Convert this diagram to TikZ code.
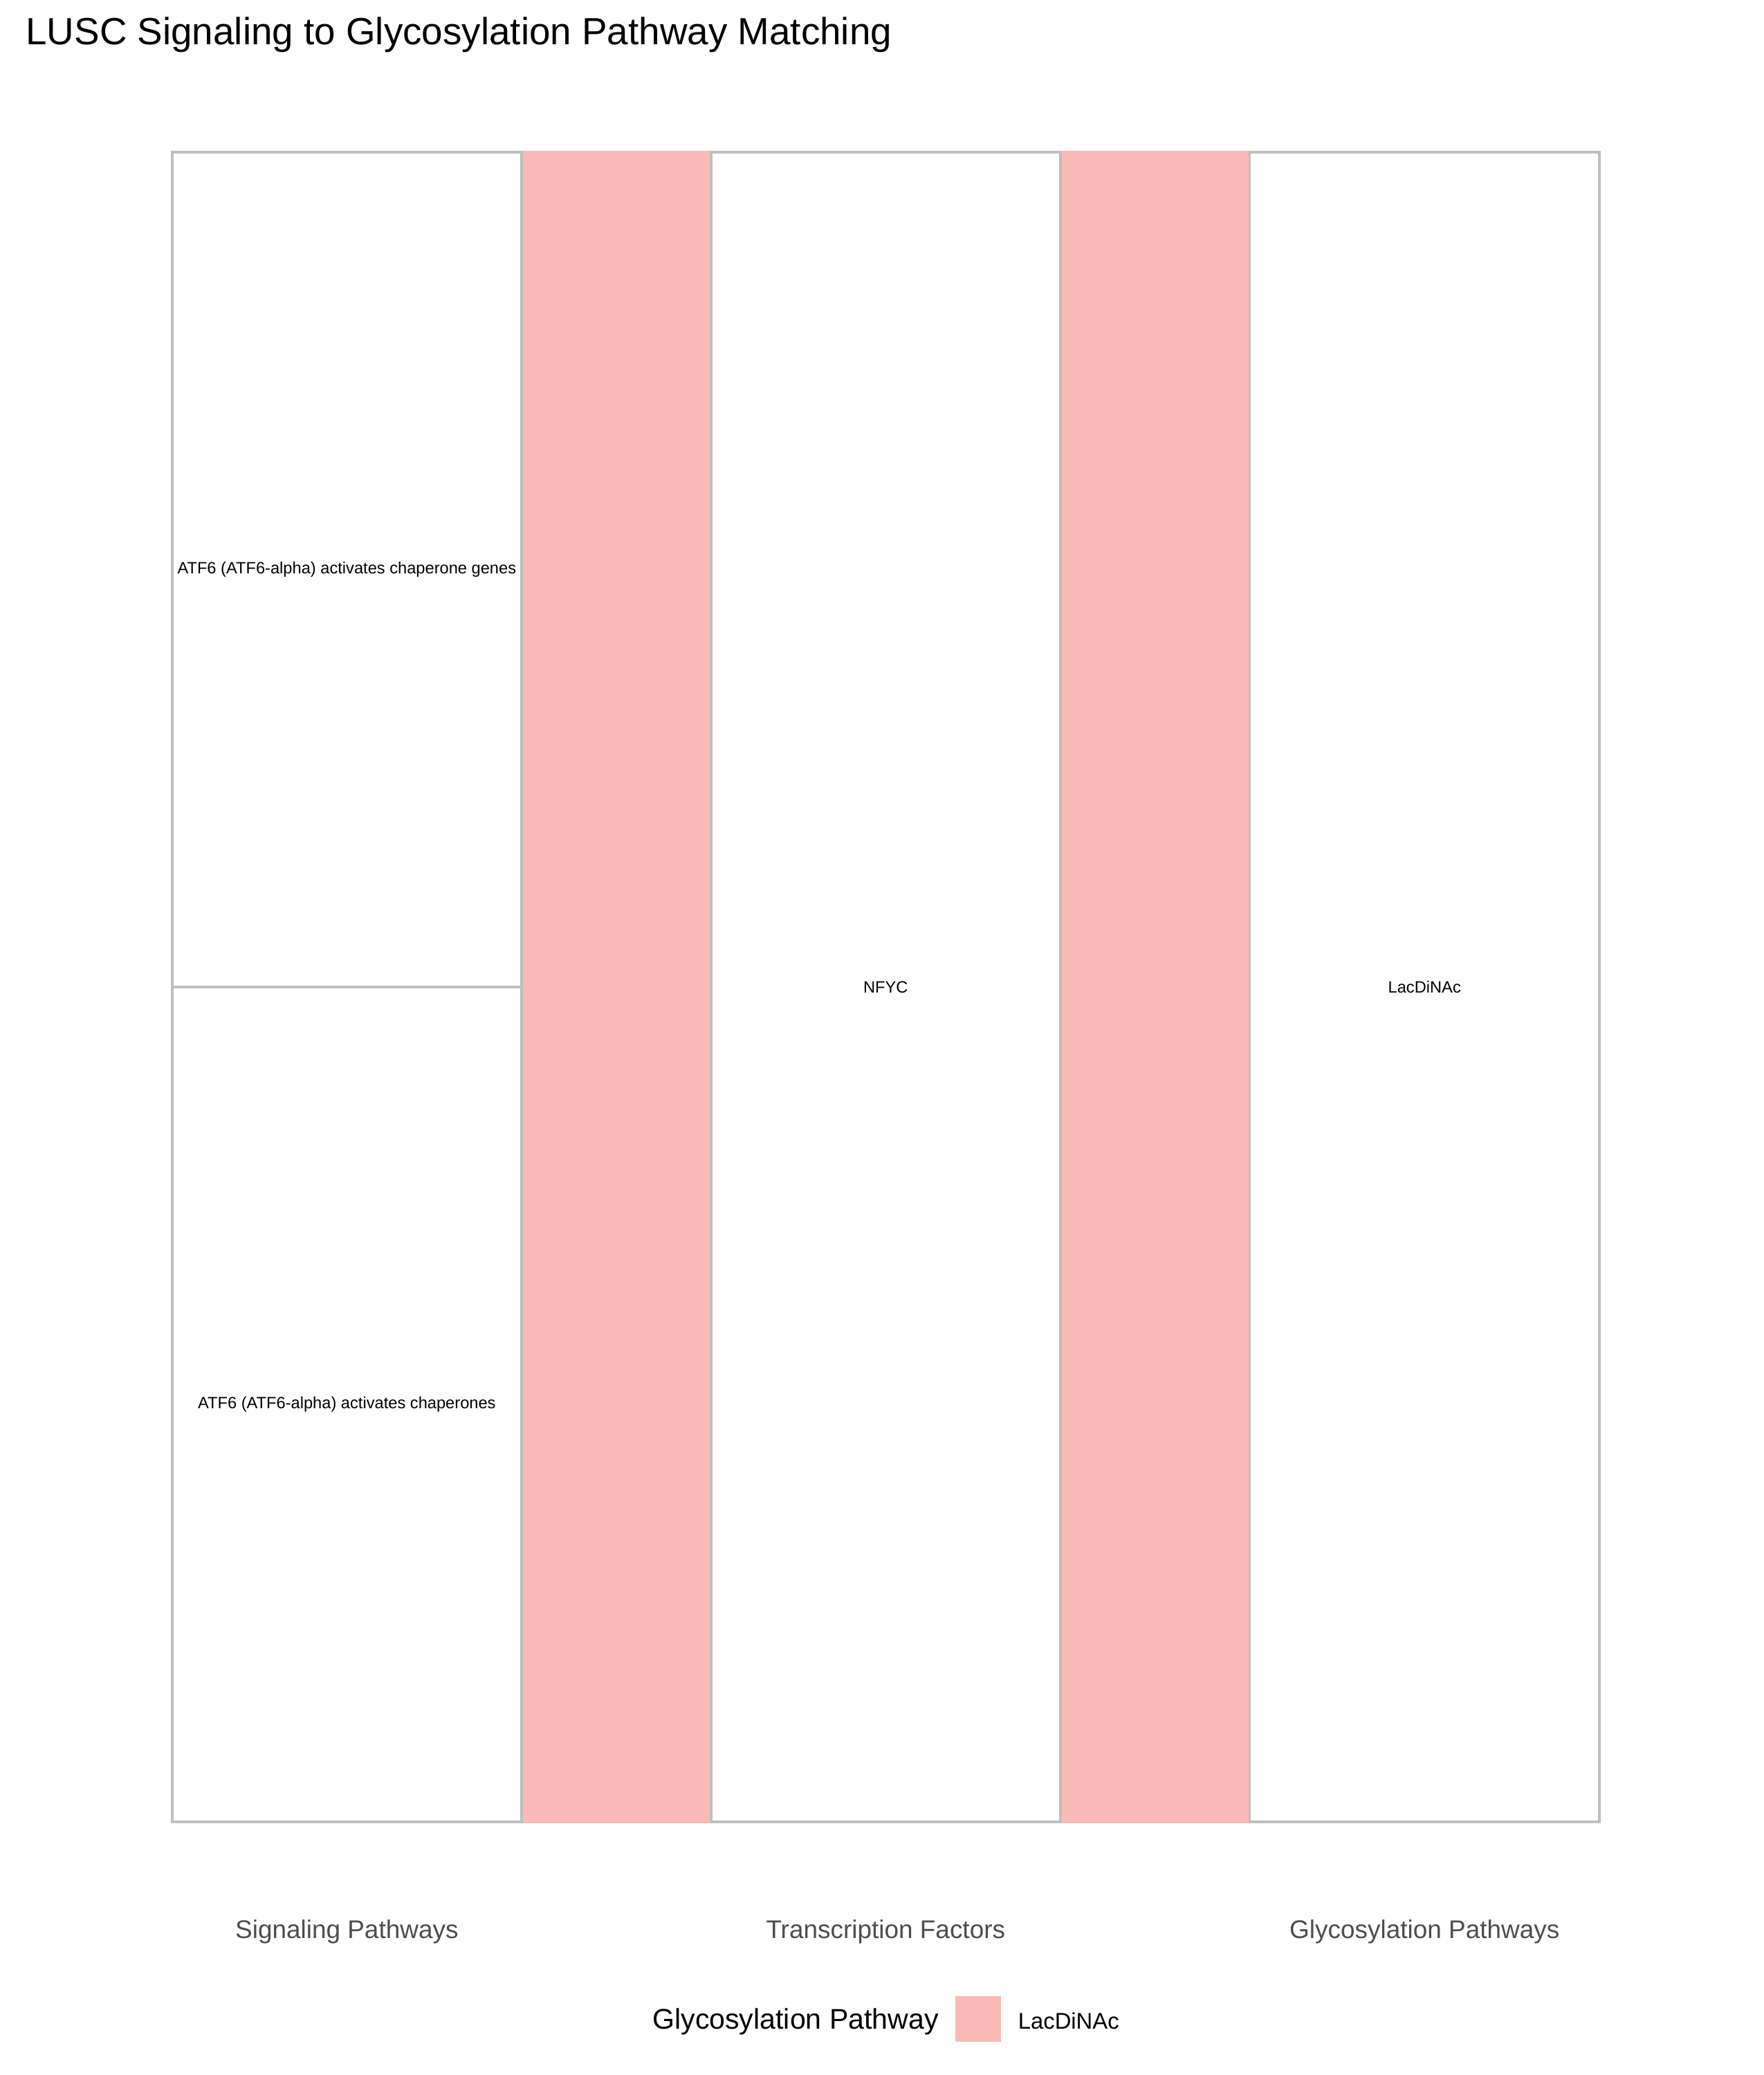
\documentclass[tikz,border=0pt]{standalone}
\usepackage{fontspec}
\setmainfont{Liberation Sans}
\usepackage{tikz}
\usetikzlibrary{positioning}
\definecolor{lacpink}{RGB}{250,187,183}
\definecolor{stratgray}{RGB}{190,190,190}
\definecolor{axisgray}{RGB}{77,77,77}

\begin{document}
\begin{tikzpicture}[
    stratum/.style={draw=stratgray, line width=0.95pt, fill=white, minimum width=4.28cm, inner sep=0pt, font=\fontsize{5.7}{7}\selectfont},
    flow/.style={fill=lacpink},
    axislabel/.style={text=axisgray, font=\fontsize{8.9}{10}\selectfont},
    legendtext/.style={inner sep=0pt, anchor=base west}
  ]
            \useasboundingbox (0,0) rectangle (21.59,25.4);

            % Title
            \node[anchor=base west, inner sep=0pt, font=\fontsize{13.2}{15}\selectfont] (title) at (0.31,24.85) {LUSC Signaling to Glycosylation Pathway Matching};

            % Signaling pathway strata
            \node[stratum, minimum height=10.219cm] (sig1) at (4.245,18.428) {ATF6 (ATF6-alpha) activates chaperone genes};
            \node[stratum, minimum height=10.219cm] (sig2) at (4.245,8.209) {ATF6 (ATF6-alpha) activates chaperones};

            % Transcription factor and glycosylation strata
            \node[stratum, minimum height=20.438cm] (tf) at (10.84,13.318) {NFYC};
            \node[stratum, minimum height=20.438cm] (gly) at (17.435,13.318) {LacDiNAc};

            % Flows
            \fill[flow] (sig1.north east) rectangle (tf.south west);
            \fill[flow] (tf.north east) rectangle (gly.south west);

            % Axis labels
            \node[axislabel] (xsig) at (4.245,1.753) {Signaling Pathways};
            \node[axislabel] (xtf) at (10.84,1.753) {Transcription Factors};
            \node[axislabel] (xgly) at (17.435,1.753) {Glycosylation Pathways};

            % Legend
            \node[legendtext, font=\fontsize{9.9}{11}\selectfont] (legtitle) at (7.98,0.56) {Glycosylation Pathway};
            \node[flow, minimum size=0.56cm, inner sep=0pt] (legkey) at (11.972,0.686) {};
            \node[legendtext, font=\fontsize{7.9}{9}\selectfont] (legitem) at (12.455,0.56) {LacDiNAc};
        \end{tikzpicture}
\end{document}
